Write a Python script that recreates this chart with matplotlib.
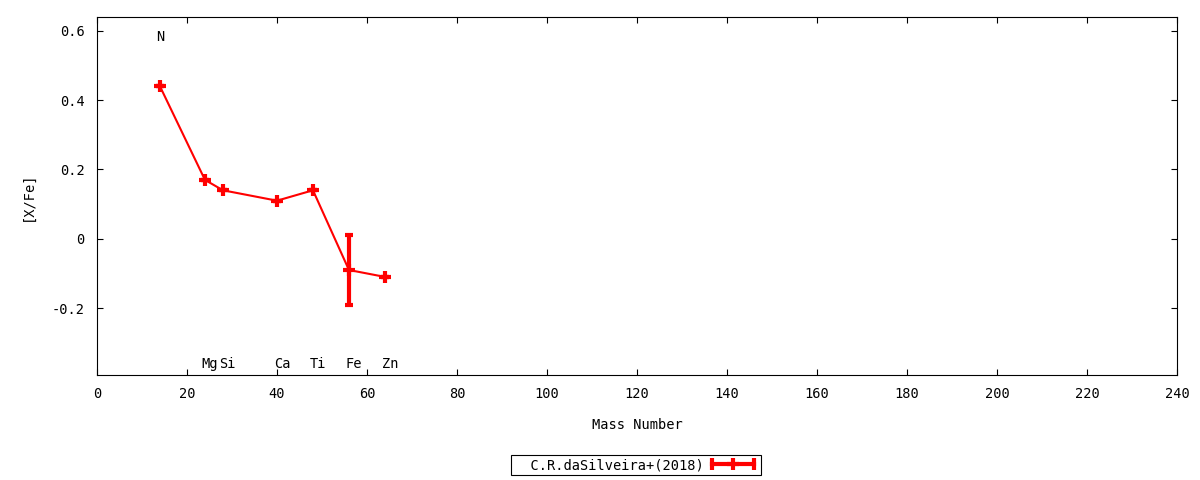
import numpy as np
import matplotlib
matplotlib.use('Agg')
import matplotlib.pyplot as plt
from matplotlib.lines import Line2D
from matplotlib.legend_handler import HandlerLine2D

plt.rcParams['font.family'] = ['DejaVu Sans Mono']
plt.rcParams['font.size'] = 9.8

# data
mass = [14, 24, 28, 40, 48, 56, 64]
xfe = [0.44, 0.17, 0.14, 0.11, 0.14, -0.09, -0.11]
err = [0, 0, 0, 0, 0, 0.10, 0]

# element labels
elements = ['N', 'Mg', 'Si', 'Ca', 'Ti', 'Fe', 'Zn']
label_x = [13.2, 23.3, 27.2, 39.3, 47.3, 55.3, 63.3]
label_y = [0.583, -0.36, -0.36, -0.36, -0.36, -0.36, -0.36]

red = '#ff0000'

fig = plt.figure(figsize=(12, 4.8), dpi=100)
ax = fig.add_axes([0.0808, 0.21875, 0.9, 0.7458])

ax.errorbar(mass, xfe, yerr=err, color=red, lw=1.5, marker='+', ms=9, mew=3,
            elinewidth=3, capsize=3, capthick=3, zorder=3)

for el, lx, ly in zip(elements, label_x, label_y):
    ax.text(lx, ly, el, ha='left', va='center')

ax.set_xlim(0, 240)
ax.set_ylim(-0.393, 0.64)
ax.set_xticks(np.arange(0, 241, 20))
ax.set_yticks([-0.2, 0, 0.2, 0.4, 0.6])
ax.set_yticklabels(['-0.2', '0', '0.2', '0.4', '0.6'])
ax.tick_params(direction='in', length=4.5, width=0.8, top=True, right=True, pad=9)
for s in ax.spines.values():
    s.set_linewidth(0.8)

ax.set_xlabel('Mass Number', labelpad=12)
ax.set_ylabel('[X/Fe]', labelpad=12)

# gnuplot-like legend sample: line with caps, marker in middle
bar = Line2D([], [], color=red, lw=3, marker='|', ms=9, mew=3)
pt = Line2D([], [], color=red, lw=0, marker='+', ms=9, mew=3)
leg = ax.legend([(bar, pt)], ['  C.R.daSilveira+(2018)'],
                handler_map={bar: HandlerLine2D(numpoints=2, marker_pad=0.3),
                             pt: HandlerLine2D(numpoints=1)},
                loc='center', bbox_to_anchor=(0.53, 0.031),
                bbox_transform=fig.transFigure, markerfirst=False,
                fancybox=False, edgecolor='black', framealpha=1,
                borderpad=0.2, handlelength=3.7, handletextpad=0.3,
                borderaxespad=0)
leg.get_frame().set_linewidth(0.8)

fig.savefig('out.png', dpi=100)
